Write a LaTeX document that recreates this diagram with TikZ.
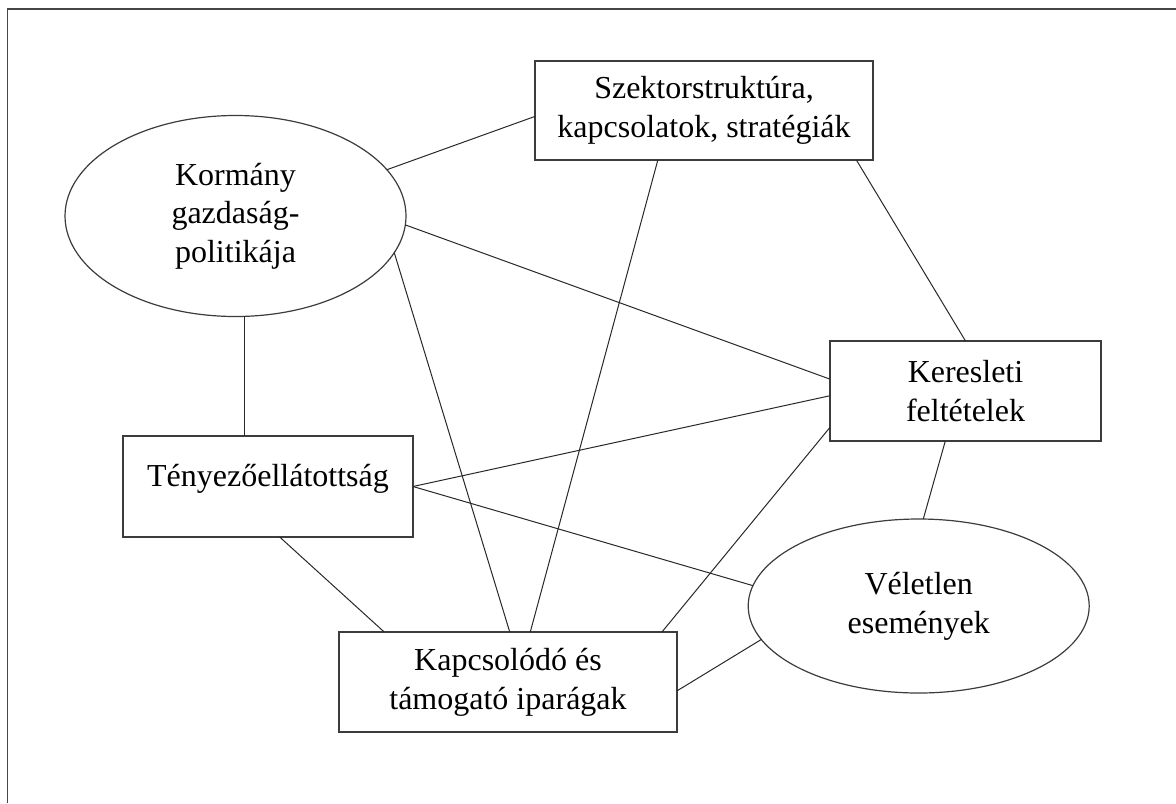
\documentclass[tikz,border=0pt]{standalone}
\usepackage{fontspec}
\setmainfont{Liberation Serif}
\usetikzlibrary{shapes.geometric}

\begin{document}
\begin{tikzpicture}[x=0.75pt,y=0.75pt,yscale=-1,xscale=1,
  box/.style={draw={rgb, 255:red, 60; green, 60; blue, 60 },line width=0.9pt,fill=white,inner sep=0pt,outer sep=0pt,align=center,font=\fontsize{24}{29}\selectfont},
  oval/.style={box,ellipse},
  link/.style={draw={rgb, 255:red, 40; green, 40; blue, 40 },line width=0.75pt}]
\useasboundingbox (0,0) rectangle (1176,803);

%Shape: Frame
\draw [color={rgb, 255:red, 70; green, 70; blue, 70 },line width=1.1pt] (7.5,803) -- (7.5,9) -- (1176,9);

%Shape: Ellipse
\node [oval,minimum width=255.75pt,minimum height=150.75pt] (kormany) at (235.5,216) {Kormány\\gazdaság-\\politikája};
%Shape: Rectangle
\node [box,minimum width=253.5pt,minimum height=74.25pt] (szektor) at (704,110.5) {Szektorstruktúra,\\kapcsolatok, stratégiák};
%Shape: Rectangle
\node [box,minimum width=203.25pt,minimum height=75pt] (kereslet) at (965.5,391) {Keresleti\\feltételek};
%Shape: Rectangle
\node [box,minimum width=217.5pt,minimum height=75.75pt,text depth=17pt] (tenyezo) at (268,486.5) {Tényezőellátottság};
%Shape: Rectangle
\node [box,minimum width=253.5pt,minimum height=75pt] (kapcsolodo) at (508,682) {Kapcsolódó és\\támogató iparágak};
%Shape: Ellipse
\node [oval,minimum width=255.75pt,minimum height=130.5pt] (veletlen) at (918.7,606) {Véletlen\\események};

%Straight Lines
\draw [link] (kormany.17) -- (szektor.182);
\draw [link] (kormany.-3) -- (kereslet.175);
\draw [link] (kormany.-13) -- (kapcsolodo.88);
\draw [link] (kormany.-85) -- (kormany.-85 |- tenyezo.north);
\draw [link] (szektor.-133) -- (kapcsolodo.66);
\draw [link] (szektor.-18) -- (kereslet.90);
\draw [link] (tenyezo.east) -- (kereslet.182);
\draw [link] (tenyezo.east) -- (veletlen.173);
\draw [link] (tenyezo.-77) -- (kapcsolodo.158);
\draw [link] (kereslet.195) -- (kapcsolodo.18);
\draw [link] (kereslet.248) -- (veletlen.87);
\draw [link] (kapcsolodo.-3) -- (veletlen.192);

\end{tikzpicture}
\end{document}
